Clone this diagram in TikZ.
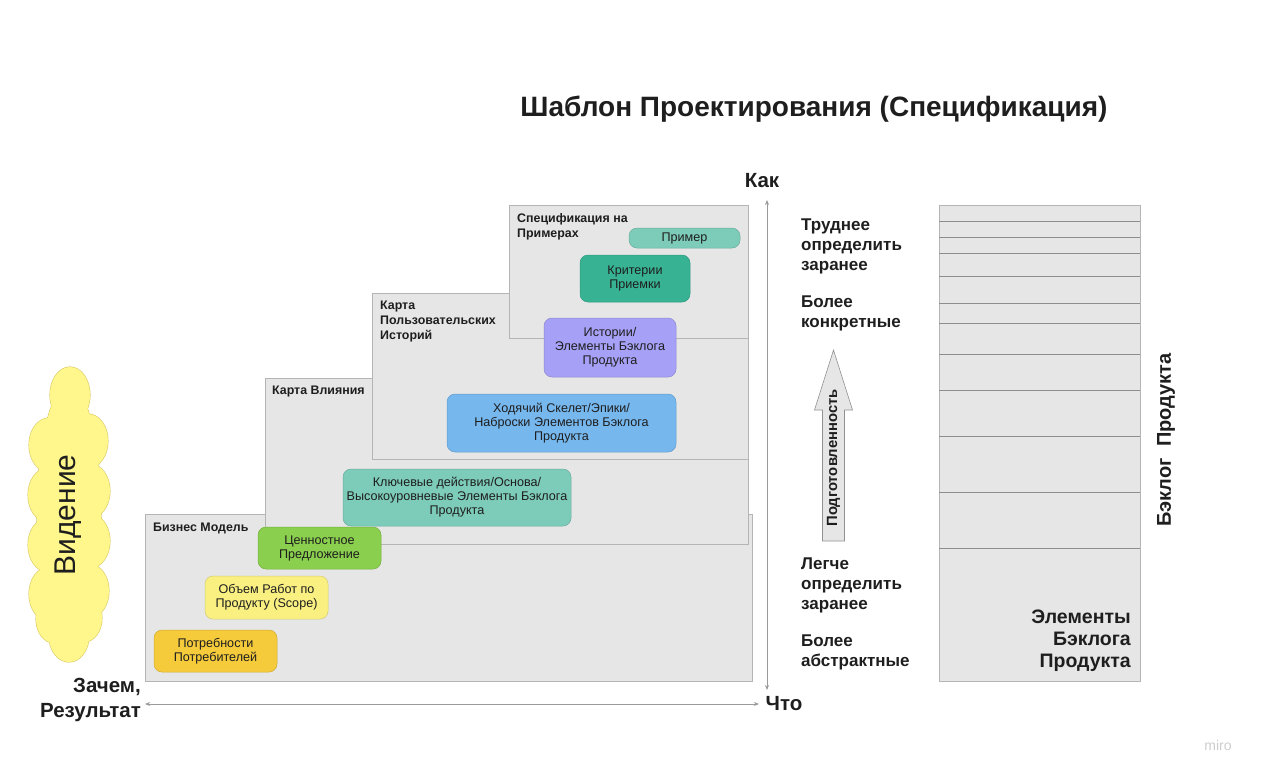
\documentclass[tikz,border=0pt]{standalone}
\usepackage{fontspec}
\setmainfont{Liberation Sans}
\usepackage{tikz}
\usetikzlibrary{arrows.meta,positioning}
\definecolor{StageGray}{HTML}{E6E6E6}
\definecolor{EdgeGray}{HTML}{B5B5B5}
\definecolor{RowGray}{HTML}{8E8E8E}
\definecolor{AxisGray}{HTML}{9A9A9A}
\definecolor{InkDark}{HTML}{1E1E1E}
\definecolor{TealSoft}{HTML}{7DCBB9}
\definecolor{TealDeep}{HTML}{37B394}
\definecolor{LavenderSoft}{HTML}{A6A0F6}
\definecolor{SkySoft}{HTML}{76B7EE}
\definecolor{GreenLeaf}{HTML}{8ACF4D}
\definecolor{YellowSoft}{HTML}{FAF082}
\definecolor{GoldSoft}{HTML}{F5CB3C}
\definecolor{CloudYellow}{HTML}{FFF78C}
\definecolor{CloudEdge}{HTML}{D6C75E}
% puffs of the vision cloud: x/y/x radius/y radius
\newcommand\visionpuffs{70/395/20/28, 69/636/20/26,
  88/441/20/27, 90/491/20/27, 90/541/20/27, 89/591/20/27, 84/618/18/24,
  49/445/20/27, 48/495/20/27, 48/545/20/27, 49/594/20/27, 54/619/18/24,
  69/515/32/130}

\begin{document}
\begin{tikzpicture}[x=1pt,y=-1pt,
  every node/.style={font=\fontsize{12.6}{14}\selectfont,text=InkDark},
  stage/.style={draw=EdgeGray,fill=StageGray,line width=0.7pt},
  stagelabel/.style={anchor=north west,align=left,inner sep=0pt,
    font=\bfseries\fontsize{12.4}{15}\selectfont},
  item/.style={draw=#1!85!black,fill=#1,rounded corners=8pt,align=center,
    inner sep=0pt,line width=0.5pt},
  side/.style={anchor=west,align=left,inner sep=0pt,
    font=\bfseries\fontsize{17}{20}\selectfont},
  axislabel/.style={font=\bfseries\fontsize{20.5}{25}\selectfont},
  axis/.style={draw=AxisGray,line width=0.8pt,
    {Stealth[length=5pt,width=4pt]}-{Stealth[length=5pt,width=4pt]}},
  rowline/.style={draw=RowGray,line width=0.7pt}]
  \useasboundingbox (0,0) rectangle (1277,782);

  \node[font=\bfseries\fontsize{28}{32}\selectfont] (title) at (814,109)
    {Шаблон Проектирования (Спецификация)};

  % stairs
  \draw[stage] (145,514) rectangle (752,681);
  \draw[stage] (265,378) rectangle (748,544);
  \draw[stage] (372,293) rectangle (748,459);
  \draw[stage] (509,205) rectangle (748,338);
  \node[stagelabel] (bmLabel) at (153,523) {Бизнес Модель};
  \node[stagelabel] (imLabel) at (272,386) {Карта Влияния};
  \node[stagelabel] (usmLabel) at (380,301) {Карта\\Пользовательских\\Историй};
  \node[stagelabel] (sbeLabel) at (517,213) {Спецификация на\\Примерах};

  \node[item=TealSoft,minimum width=111pt,minimum height=20pt] (example) at (684.5,238) {Пример};
  \node[item=TealDeep,minimum width=110pt,minimum height=47pt] (criteria) at (635,278.5) {Критерии\\Приемки};
  \node[item=LavenderSoft,minimum width=132pt,minimum height=59pt] (stories) at (610,347.5) {Истории/\\Элементы Бэклога\\Продукта};
  \node[item=SkySoft,minimum width=229pt,minimum height=58pt] (skeleton) at (561.5,423) {Ходячий Скелет/Эпики/\\Наброски Элементов Бэклога\\Продукта};
  \node[item=TealSoft,minimum width=228pt,minimum height=57pt] (actions) at (457,497.5) {Ключевые действия/Основа/\\Высокоуровневые Элементы Бэклога\\Продукта};
  \node[item=GreenLeaf,minimum width=123pt,minimum height=42pt] (value) at (319.5,548) {Ценностное\\Предложение};
  \node[item=YellowSoft,minimum width=123pt,minimum height=43pt] (scope) at (266.5,597.5) {Объем Работ по\\Продукту (Scope)};
  \node[item=GoldSoft,minimum width=123pt,minimum height=42pt] (needs) at (215.5,651) {Потребности\\Потребителей};

  % vision cloud: outline pass, then fill pass
  \foreach \cx/\cy/\rx/\ry in \visionpuffs
    \draw[CloudEdge,line width=1.1pt] (\cx,\cy) ellipse [x radius=\rx, y radius=\ry];
  \foreach \cx/\cy/\rx/\ry in \visionpuffs
    \fill[CloudYellow] (\cx,\cy) ellipse [x radius=\rx, y radius=\ry];
  \node[rotate=90,font=\fontsize{30}{32}\selectfont] (vision) at (68,515) {Видение};

  % axes
  \coordinate (howEnd) at (767,200);
  \coordinate (whatEnd) at (767,690);
  \coordinate (whyEnd) at (145,704);
  \coordinate (whatEndH) at (759,704);
  \draw[axis] (howEnd) -- (whatEnd);
  \draw[axis] (whyEnd) -- (whatEndH);
  \node[axislabel] (how) at (762,181) {Как};
  \node[axislabel] (what) at (784,704) {Что};
  \node[axislabel,align=right,anchor=east,inner sep=0pt] (why) at (141,699.5) {Зачем,\\Результат};

  \node[side] (harder) at (801,246) {Труднее\\определить\\заранее};
  \node[side] (concrete) at (801,313) {Более\\конкретные};
  \node[side] (easier) at (801,585) {Легче\\определить\\заранее};
  \node[side] (abstract) at (801,652) {Более\\абстрактные};

  % readiness arrow
  \draw[draw=EdgeGray!80!black,fill=StageGray,line width=0.6pt]
    (822.5,541) -- (822.5,410) -- (814.5,410) -- (833.5,350) -- (852.5,410)
    -- (844.5,410) -- (844.5,541) -- cycle;
  \node[rotate=90,font=\bfseries\fontsize{14.8}{16}\selectfont] (ready) at (833.5,458) {Подготовленность};

  % backlog
  \draw[stage] (939,205) rectangle (1140,681);
  \foreach \y in {221,237,253,276,303,323,354,390,436,492,548}
    \draw[rowline] (939,\y) -- (1140,\y);
  \node[align=right,anchor=east,inner sep=0pt,
    font=\bfseries\fontsize{19.5}{22}\selectfont] (items) at (1131,641) {Элементы\\Бэклога\\Продукта};
  \node[rotate=90,font=\bfseries\fontsize{20}{22}\selectfont] (backlog) at (1166,440) {Бэклог~~Продукта};

  \node[text=gray!40,font=\fontsize{14}{16}\selectfont] (miro) at (1218,745) {miro};
\end{tikzpicture}
\end{document}
